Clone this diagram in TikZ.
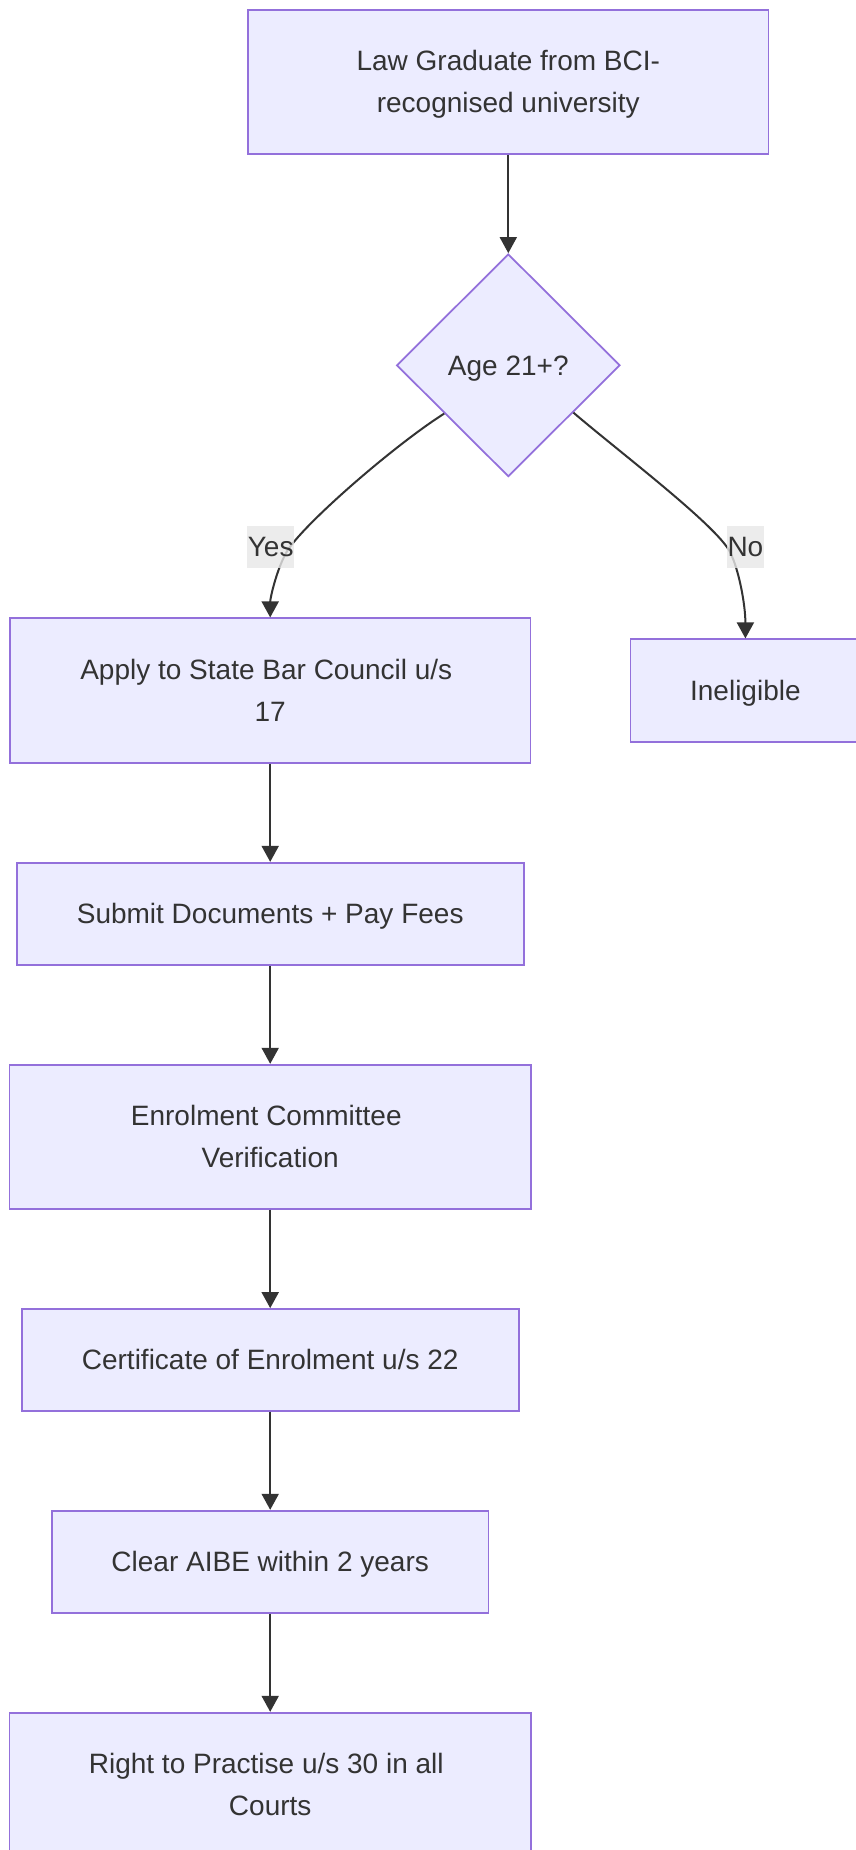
\documentclass[tikz,border=0pt]{standalone}
\usepackage{fontspec}
\setmainfont{Liberation Sans}
\usetikzlibrary{shapes.geometric,arrows.meta}
\definecolor{nodefill}{HTML}{ECECFF}
\definecolor{nodeline}{HTML}{9370DB}
\definecolor{ink}{HTML}{333333}
\definecolor{lblbg}{HTML}{E8E8E8}

% two text lines with fixed ascent on the first and descent on the last
\newcommand\nodelines[2]{\rule{0pt}{25.3pt}#1\\#2\rule[-5.9pt]{0pt}{5.9pt}}
% room left by the space at which a line was wrapped
\newcommand\wrapgap{\rule{7.8pt}{0pt}}

\begin{document}
\begin{tikzpicture}[x=1pt,y=-1pt,
  every node/.style={font=\fontsize{28}{42}\selectfont, text=ink},
  oneline/.style={text height=25.3pt, text depth=5.9pt},
  procbox/.style={draw=nodeline, fill=nodefill, line width=1.75pt, rectangle,
    inner sep=0pt, align=center},
  decision/.style={draw=nodeline, fill=nodefill, line width=1.75pt, diamond,
    inner sep=0pt, minimum width=223.4pt, minimum height=222.6pt, oneline},
  flow/.style={draw=ink, line width=2pt, -{Triangle[length=16pt,width=17pt]}},
  edgelabel/.style={fill=lblbg, fill opacity=0.8, text opacity=1,
    inner sep=0pt, minimum height=42.3pt, oneline}
]
\useasboundingbox (0,0) rectangle (855,1850);
\fill[white] (0,0) rectangle (855,1850);

% process steps
\node[procbox, minimum width=520.3pt, minimum height=144pt] (grad) at (508.3,82)
  {\nodelines{Law Graduate from BCI-}{recognised university}};
\node[decision] (age) at (508.3,365.3) {Age 21+?};
\node[procbox, minimum width=520.7pt, minimum height=144.4pt] (apply) at (270.2,690.5)
  {\nodelines{Apply to State Bar Council u/s\wrapgap}{17}};
\node[procbox, oneline, minimum width=230pt, minimum height=102.7pt] (inel) at (745.4,690.65)
  {Ineligible};
\node[procbox, oneline, minimum width=507.1pt, minimum height=102.3pt] (docs) at (270.2,913.9)
  {Submit Documents + Pay Fees};
\node[procbox, minimum width=521.4pt, minimum height=144pt] (verify) at (270.2,1136.7)
  {\nodelines{Enrolment Committee\wrapgap}{Verification}};
\node[procbox, oneline, minimum width=497.1pt, minimum height=101.7pt] (cert) at (270.2,1359.85)
  {Certificate of Enrolment u/s 22};
\node[procbox, oneline, minimum width=436.5pt, minimum height=102pt] (aibe) at (270.2,1561.7)
  {Clear AIBE within 2 years};
\node[procbox, minimum width=521.4pt, minimum height=144pt] (practise) at (270.2,1784.7)
  {\nodelines{Right to Practise u/s 30 in all\wrapgap}{Courts}};

% straight connectors
\draw[flow] (grad) -- (age);
\draw[flow] (apply) -- (docs);
\draw[flow] (docs) -- (verify);
\draw[flow] (verify) -- (cert);
\draw[flow] (cert) -- (aibe);
\draw[flow] (aibe) -- (practise);

% decision branches
\draw[flow] (age.-143) .. controls (394.3,445.1) and (300.4,526.6) .. (286,553)
  .. controls (276.4,570.6) and (270.2,598) .. (apply.north);
\draw[flow] (age.-36.6) .. controls (618.7,451.4) and (716.5,525.3) .. (730,552)
  .. controls (739,569.8) and (745.4,605) .. (inel.north);

% branch labels
\node[edgelabel, minimum width=46.7pt] (yes) at (270.7,547.2) {Yes};
\node[edgelabel, minimum width=37pt] (no) at (745.4,547.2) {No};
\end{tikzpicture}
\end{document}
